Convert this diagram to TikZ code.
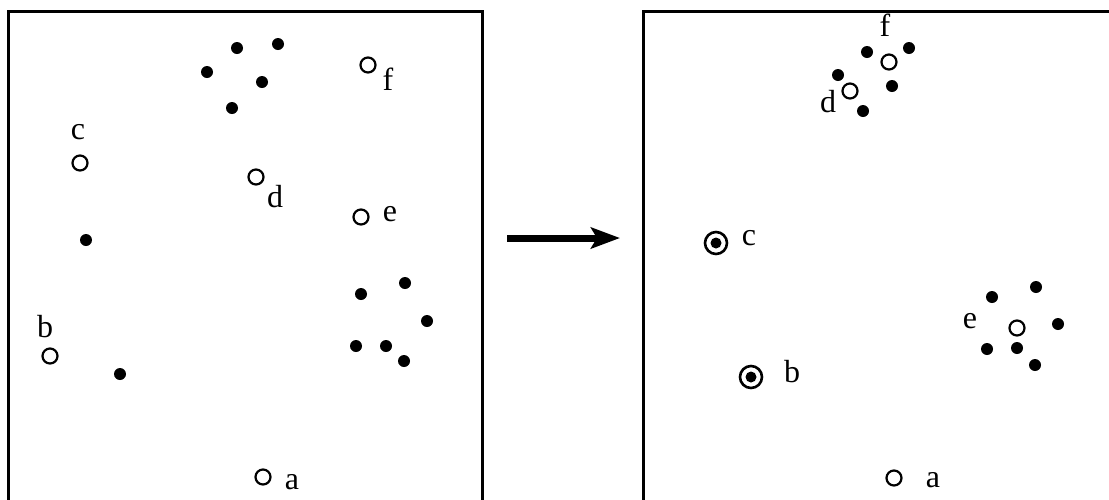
\documentclass[tikz,border=0pt]{standalone}
\usepackage{fontspec}
\setmainfont{Liberation Serif}
\usepackage{tikz}
\usetikzlibrary{arrows.meta}
\tikzset{
  fullpt/.style={circle, fill=black, inner sep=0pt, minimum size=12pt},
  openpt/.style={circle, draw=black, line width=2.2pt, fill=white,
    inner sep=0pt, minimum size=15pt},
  ringpt/.style={circle, draw=black, line width=2.6pt, fill=white,
    inner sep=0pt, minimum size=22pt,
    path picture={\fill[black] (path picture bounding box.center) circle (5.5pt);}},
  ptlabel/.style={inner sep=0pt, font=\fontsize{32}{32}\selectfont},
  frame/.style={line width=3pt, line cap=rect},
  bigarr/.style={line width=7pt, -{Stealth[length=29pt, width=21pt, inset=6pt]}},
}

\begin{document}
\begin{tikzpicture}[x=1pt, y=-1pt]
  \useasboundingbox (0,0) rectangle (1109,499);
  \clip (0,0) rectangle (1109,499);

  % Frames
  \draw[frame] (8,510) -- (8,11) -- (482,11) -- (482,510);
  \draw[frame] (643,510) -- (643,11) -- (1120,11);

  % Left: before
  \node[fullpt] (l1) at (237,48) {};
  \node[fullpt] (l2) at (278,44) {};
  \node[fullpt] (l3) at (207,72) {};
  \node[fullpt] (l4) at (262,82) {};
  \node[fullpt] (l5) at (232,108) {};
  \node[fullpt] (l6) at (86,240) {};
  \node[fullpt] (l7) at (120,374) {};
  \node[fullpt] (l8) at (361,294) {};
  \node[fullpt] (l9) at (405,283) {};
  \node[fullpt] (l10) at (427,321) {};
  \node[fullpt] (l11) at (356,346) {};
  \node[fullpt] (l12) at (386,346) {};
  \node[fullpt] (l13) at (404,361) {};

  \node[openpt] (la) at (263,477) {};
  \node[openpt] (lb) at (50,356) {};
  \node[openpt] (lc) at (80,163) {};
  \node[openpt] (ld) at (256,177) {};
  \node[openpt] (le) at (361,217) {};
  \node[openpt] (lf) at (368,65) {};

  \node[ptlabel] (la-t) at (292,482) {a};
  \node[ptlabel] (lb-t) at (45,327) {b};
  \node[ptlabel] (lc-t) at (78,132) {c};
  \node[ptlabel] (ld-t) at (275,197) {d};
  \node[ptlabel] (le-t) at (390,214) {e};
  \node[ptlabel] (lf-t) at (388,79) {f};

  % Arrow
  \coordinate (go) at (507,238);
  \coordinate (stop) at (620,238);
  \draw[bigarr] (go) -- (stop);

  % Right: after
  \node[fullpt] (r1) at (867,52) {};
  \node[fullpt] (r2) at (909,48) {};
  \node[fullpt] (r3) at (838,75) {};
  \node[fullpt] (r4) at (892,86) {};
  \node[fullpt] (r5) at (863,111) {};
  \node[fullpt] (r6) at (992,297) {};
  \node[fullpt] (r7) at (1036,287) {};
  \node[fullpt] (r8) at (1058,324) {};
  \node[fullpt] (r9) at (987,349) {};
  \node[fullpt] (r10) at (1017,348) {};
  \node[fullpt] (r11) at (1035,365) {};

  \node[openpt] (ra) at (894,478) {};
  \node[ringpt] (rb) at (751,377) {};
  \node[ringpt] (rc) at (716,243) {};
  \node[openpt] (rd) at (850,91) {};
  \node[openpt] (re) at (1017,328) {};
  \node[openpt] (rf) at (889,62) {};

  \node[ptlabel] (ra-t) at (933,480) {a};
  \node[ptlabel] (rb-t) at (792,372) {b};
  \node[ptlabel] (rc-t) at (749,238) {c};
  \node[ptlabel] (rd-t) at (828,102) {d};
  \node[ptlabel] (re-t) at (970,321) {e};
  \node[ptlabel] (rf-t) at (885,25) {f};
\end{tikzpicture}
\end{document}
